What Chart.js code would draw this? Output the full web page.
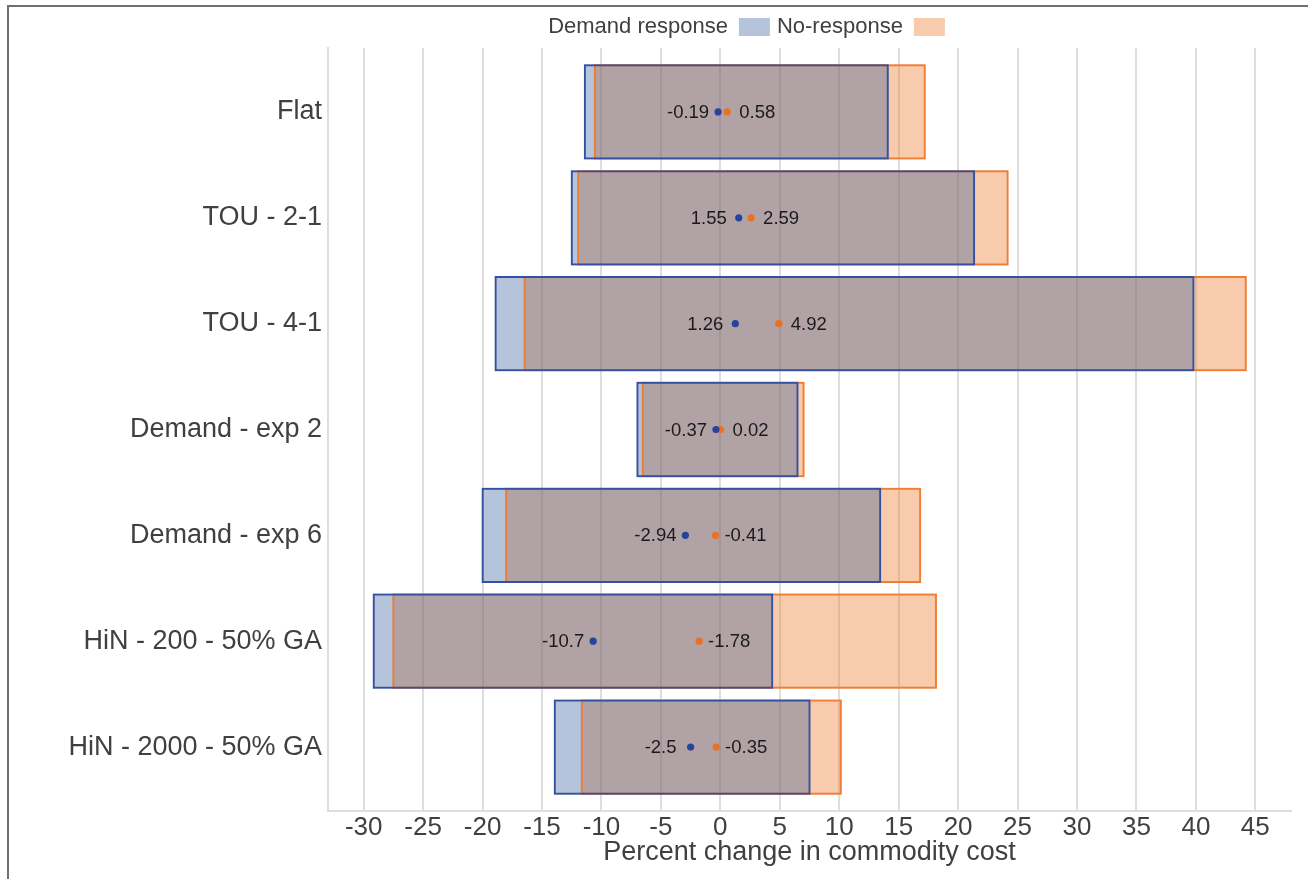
<!DOCTYPE html>
<html>
<head>
<meta charset="utf-8">
<script src="https://cdn.jsdelivr.net/npm/chart.js@4.4.1/dist/chart.umd.min.js"></script>
<style>
  html, body { margin: 0; padding: 0; background: #fff; overflow: hidden; }
  #wrap { position: absolute; left: 0; top: 0; width: 1308px; height: 879px; }
  #frame { position: absolute; left: 7px; top: 5px; width: 1400px; height: 1000px;
           border-top: 2px solid #707070; border-left: 2px solid #707070; pointer-events: none; }
</style>
</head>
<body>
<div id="wrap"><canvas id="myChart" width="1308" height="879"></canvas></div>
<div id="frame"></div>
<script>
// categories, top to bottom
const categories = ['Flat', 'TOU - 2-1', 'TOU - 4-1', 'Demand - exp 2', 'Demand - exp 6',
  'HiN - 200 - 50% GA', 'HiN - 2000 - 50% GA'];

// Demand response: range and mean
const drLow  = [-11.48, -12.58, -18.99, -7.06, -20.08, -29.24, -14.01];
const drHigh = [14.17, 21.43, 39.88, 6.58, 13.53, 4.45, 7.59];
const drMean = [-0.19, 1.55, 1.26, -0.37, -2.94, -10.7, -2.5];

// No-response: range and mean
const nrLow  = [-10.64, -12.04, -16.55, -6.61, -18.10, -27.59, -11.74];
const nrHigh = [17.28, 24.25, 44.28, 7.09, 16.89, 18.22, 10.22];
const nrMean = [0.58, 2.59, 4.92, 0.02, -0.41, -1.78, -0.35];

const xTickStep = 5;

const FONT = '"Liberation Sans", Arial, sans-serif';
const grey = '#404040';
const gridColor = '#dedede';

const blueLine = '#34509f';
const blueFill = 'rgba(47, 85, 151, 0.35)';
const orangeLine = '#ef7d32';
const orangeFill = 'rgba(237, 125, 49, 0.4)';

const drRanges = drLow.map((lo, i) => ({ x: [lo, drHigh[i]], y: i }));
const nrRanges = nrLow.map((lo, i) => ({ x: [lo, nrHigh[i]], y: i }));

// draws the value next to each mean dot
const meanLabels = {
  id: 'meanLabels',
  afterDatasetsDraw(chart) {
    const ctx = chart.ctx;
    chart.data.datasets.forEach((ds, di) => {
      if (ds.type !== 'scatter') return;
      const meta = chart.getDatasetMeta(di);
      ctx.save();
      ctx.font = '18.5px ' + FONT;
      ctx.fillStyle = '#1a1a1a';
      ctx.textAlign = 'center';
      ctx.textBaseline = 'middle';
      meta.data.forEach((pt, i) => {
        ctx.fillText(String(ds.means[i]), pt.x + ds.labelShift, pt.y + 1);
      });
      ctx.restore();
    });
  }
};

// legend sits centred over the right part of the figure
const legendShift = {
  id: 'legendShift',
  afterLayout(chart) {
    const lg = chart.legend;
    lg.left = 202;
    lg.width = lg.right - lg.left;
  }
};

// shared bar look
function rangeBar(label, ranges, fill, line, width, order, inLegend) {
  return {
    type: 'bar',
    label,
    data: ranges,
    backgroundColor: fill,
    borderColor: line,
    borderWidth: width,
    borderSkipped: false,
    grouped: false,
    categoryPercentage: 1,
    barPercentage: 0.9,
    order,
    inLegend
  };
}

// fills first (orange under blue), outlines on top
const data = {
  datasets: [
    rangeBar('Demand response', drRanges, blueFill, blueLine, 0, 4, true),
    rangeBar('No-response', nrRanges, orangeFill, orangeLine, 0, 5, true),
    rangeBar('Demand response outline', drRanges, 'rgba(0,0,0,0)', blueLine, 2, 2, false),
    rangeBar('No-response outline', nrRanges, 'rgba(0,0,0,0)', orangeLine, 2, 3, false),
    {
      type: 'scatter',
      label: 'Demand response mean',
      data: drMean.map((v, i) => ({ x: v, y: i })),
      means: drMean,
      labelShift: -30,
      backgroundColor: '#26449b',
      borderWidth: 0,
      pointRadius: 3.6,
      order: 1
    },
    {
      type: 'scatter',
      label: 'No-response mean',
      data: nrMean.map((v, i) => ({ x: v, y: i })),
      means: nrMean,
      labelShift: 30,
      backgroundColor: '#ed7020',
      borderWidth: 0,
      pointRadius: 3.6,
      order: 1
    }
  ]
};

const myChart = new Chart(document.getElementById('myChart'), {
  type: 'bar',
  data,
  plugins: [meanLabels, legendShift],
  options: {
    indexAxis: 'y',
    responsive: false,
    animation: false,
    layout: { padding: { left: 10, right: 17, top: 9, bottom: 0 } },
    scales: {
      x: {
        type: 'linear',
        position: 'bottom',
        offset: false,
        beginAtZero: false,
        min: -33,
        max: 48,
        ticks: {
          stepSize: xTickStep,
          includeBounds: false,
          color: grey,
          font: { family: FONT, size: 26 },
          padding: 1
        },
        grid: { color: gridColor, lineWidth: 2, drawTicks: false, offset: false },
        border: { display: true, color: gridColor, width: 2 },
        title: {
          display: true,
          text: 'Percent change in commodity cost',
          color: grey,
          font: { family: FONT, size: 27 },
          padding: { top: 0, bottom: 10 }
        },
        afterFit(scale) { scale.height = 68; }
      },
      y: {
        type: 'linear',
        position: 'left',
        offset: false,
        reverse: true,
        min: -0.604,
        max: categories.length - 1 + 0.604,
        ticks: {
          stepSize: 1,
          includeBounds: false,
          color: grey,
          font: { family: FONT, size: 27 },
          padding: 6,
          callback: (v) => (Number.isInteger(v) ? categories[v] : '')
        },
        grid: { display: false, drawTicks: false, offset: false },
        border: { display: true, color: gridColor, width: 2 },
        afterFit(scale) { scale.width = 318; }
      }
    },
    plugins: {
      legend: {
        position: 'top',
        rtl: true,
        reverse: true,
        textDirection: 'ltr',
        labels: {
          boxWidth: 31,
          boxHeight: 18,
          padding: 7,
          color: grey,
          font: { family: FONT, size: 22 },
          filter: (item, chartData) => chartData.datasets[item.datasetIndex].inLegend === true,
          generateLabels(chart) {
            return Chart.defaults.plugins.legend.labels.generateLabels(chart)
              .map((item) => Object.assign(item, { lineWidth: 0 }));
          }
        }
      },
      tooltip: { enabled: false }
    }
  }
});
</script>
</body>
</html>
